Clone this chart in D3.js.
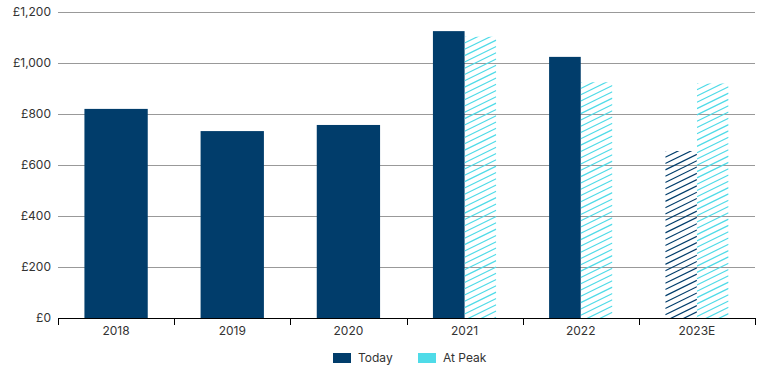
<!DOCTYPE html>
<html>
<head>
<meta charset="utf-8">
<script src="https://cdn.jsdelivr.net/npm/d3@7"></script>
<style>
  body { margin: 0; background: #fff; }
  text { font-family: Inter, "Noto Sans", sans-serif; fill: #333; }
</style>
</head>
<body>
<svg id="chart" width="770" height="372"></svg>
<script>
const years = ["2018", "2019", "2020", "2021", "2022", "2023E"];
const today = [820, 733, 757, 1125, 1024, 655];
const atPeak = [null, null, null, 1103, 925, 920];
const todayEstimated = [false, false, false, false, false, true];
const yTicks = [0, 200, 400, 600, 800, 1000, 1200];

const navy = "#013d6b";
const cyan = "#4fdbe8";

const margin = { top: 12, right: 15, bottom: 53, left: 58 };
const width = 770, height = 372;
const svg = d3.select("#chart");

const x = d3.scaleBand().domain(years).range([margin.left, width - margin.right]).padding(0);
const y = d3.scaleLinear().domain([0, 1200]).range([height - margin.bottom - 1, margin.top]);

const defs = svg.append("defs");
let clipId = 0;

// hatched rectangle: diagonal lines rising to the right, clipped to the bar
function hatchedRect(g, rx, ry, rw, rh, color) {
  const id = "clip" + clipId++;
  defs.append("clipPath").attr("id", id)
    .append("rect").attr("x", rx).attr("y", ry).attr("width", rw).attr("height", rh);
  const slope = 0.49, gap = 6.3;
  const hg = g.append("g").attr("clip-path", `url(#${id})`);
  for (let b = ry; b < ry + rh + rw * slope + gap; b += gap) {
    hg.append("line")
      .attr("x1", rx).attr("y1", b)
      .attr("x2", rx + rw).attr("y2", b - rw * slope)
      .attr("stroke", color)
      .attr("stroke-width", 1.2);
  }
}

// gridlines
svg.append("g")
  .selectAll("line")
  .data(yTicks.filter((d) => d > 0))
  .enter()
  .append("line")
  .attr("x1", margin.left)
  .attr("x2", width - margin.right)
  .attr("y1", (d) => Math.round(y(d)) + 0.5)
  .attr("y2", (d) => Math.round(y(d)) + 0.5)
  .attr("stroke", "#999")
  .attr("stroke-width", 1);

// y labels
svg.append("g")
  .selectAll("text")
  .data(yTicks)
  .enter()
  .append("text")
  .attr("x", margin.left - 7)
  .attr("y", (d) => y(d))
  .attr("dy", "0.35em")
  .attr("text-anchor", "end")
  .attr("font-size", 12)
  .text((d) => "£" + d3.format(",")(d));

const barW = x.bandwidth() * 0.545;
const rows = years.map((yr, i) => ({ yr, today: today[i], peak: atPeak[i], est: todayEstimated[i] }));

const bars = svg.append("g");
rows.forEach((d) => {
  const cx = x(d.yr) + x.bandwidth() / 2;
  if (d.peak == null) {
    bars.append("rect")
      .attr("x", cx - barW / 2)
      .attr("width", barW)
      .attr("y", y(d.today))
      .attr("height", y(0) - y(d.today))
      .attr("fill", navy);
  } else {
    if (d.est) {
      hatchedRect(bars, cx - barW / 2, y(d.today), barW / 2, y(0) - y(d.today), navy);
    } else {
      bars.append("rect")
        .attr("x", cx - barW / 2)
        .attr("width", barW / 2)
        .attr("y", y(d.today))
        .attr("height", y(0) - y(d.today))
        .attr("fill", navy);
    }
    hatchedRect(bars, cx, y(d.peak), barW / 2, y(0) - y(d.peak), cyan);
  }
});

// x axis
const xAxis = svg.append("g").attr("transform", `translate(0,${y(0)})`);
xAxis.append("line")
  .attr("x1", margin.left)
  .attr("x2", width - margin.right)
  .attr("y1", 0.5).attr("y2", 0.5)
  .attr("stroke", "#000");
const edges = years.map((d) => x(d)).concat([width - margin.right]);
xAxis.selectAll(".tick")
  .data(edges)
  .enter()
  .append("line")
  .attr("x1", (d) => Math.round(d) + 0.5)
  .attr("x2", (d) => Math.round(d) + 0.5)
  .attr("y1", 0).attr("y2", 7)
  .attr("stroke", "#000");
xAxis.selectAll("text")
  .data(years)
  .enter()
  .append("text")
  .attr("x", (d) => x(d) + x.bandwidth() / 2)
  .attr("y", 17)
  .attr("text-anchor", "middle")
  .attr("font-size", 12)
  .text((d) => d);

// legend
const legendItems = [
  { label: "Today", color: navy, x: 333 },
  { label: "At Peak", color: cyan, x: 418 },
];
const legend = svg.append("g");
legendItems.forEach((d) => {
  legend.append("rect")
    .attr("x", d.x).attr("y", 353)
    .attr("width", 18).attr("height", 10)
    .attr("fill", d.color);
  legend.append("text")
    .attr("x", d.x + 25).attr("y", 358)
    .attr("dy", "0.35em")
    .attr("font-size", 12)
    .text(d.label);
});
</script>
</body>
</html>
